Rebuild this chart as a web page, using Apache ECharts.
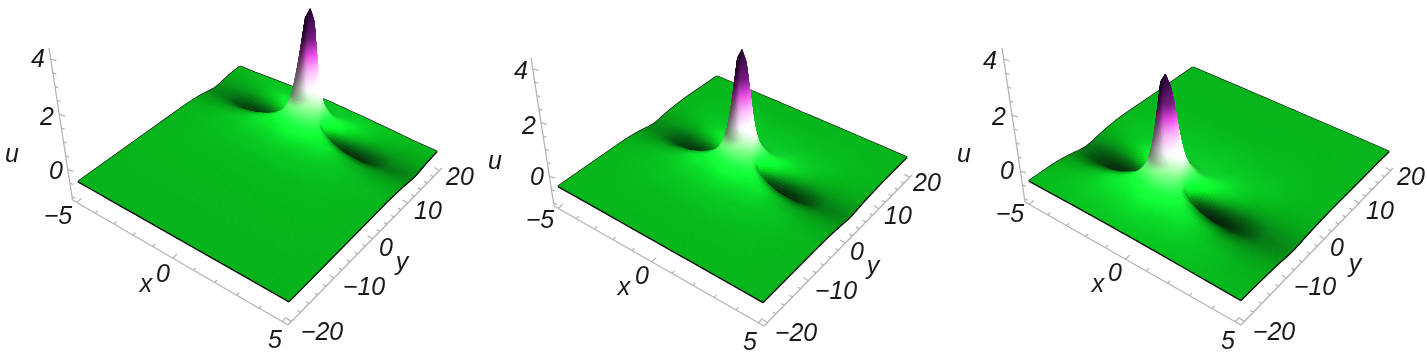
<!DOCTYPE html>
<html><head><meta charset="utf-8">
<style>html,body{margin:0;padding:0;background:#fff}#main{width:1426px;height:361px;filter:blur(0.7px)}</style>
<script src="https://cdn.jsdelivr.net/npm/echarts@6/dist/echarts.min.js"></script>
</head><body><div id="main"></div>
<script>
// ---- values ----
const uTicks=[0,2,4];
const uMinorTicks=[-1,-0.5,0.5,1,1.5,2.5,3,3.5];
const xTicks=[-5,0,5];
const xMinorTicks=[-4,-3,-2,-1,1,2,3,4];
const yTicks=[-20,-10,0,10,20];
const yMinorTicks=[-18,-16,-14,-12,-8,-6,-4,-2,2,4,6,8,12,14,16,18];
// peak position of the lump in each panel (x, y) and its stretch along x and y
const peakX=[-0.17,-0.2,-0.67];
const peakY=[13.1,2.4,-7.6];
const stretchX=[1,1,1.1];
const stretchY=[1.2,1.3,1.5];
// offsets from the peak at which heights were read
const xOffsets=[0,0.2,0.4,0.6,0.8,1,1.3,1.7,2.2,3,4,6,9];
const yOffsets=[0,0.4,0.8,1.2,1.6,2.4,3.2,4.8,7,11,16,34];
// u*100 on those offsets (one row per x offset); the lump is mirrored about its peak
const uHundredths=[
[400,345,212,130,88,47,30,15,8,3,2,0],
[365,305,192,122,84,45,28,15,8,3,2,0],
[230,198,138,95,70,40,26,14,8,3,2,0],
[110,108,95,76,60,36,24,13,8,3,2,0],
[30,38,50,54,48,32,22,13,8,3,2,0],
[-18,-6,18,32,35,28,20,12,8,3,2,0],
[-45,-32,-8,12,22,24,20,12,7,3,2,0],
[-50,-42,-24,-6,6,17,17,12,7,3,2,0],
[-45,-41,-30,-18,-7,6,10,9,6,3,2,0],
[-32,-30,-26,-20,-14,-4,2,6,5,3,2,0],
[-14,-13,-12,-11,-8,-5,-2,2,3,2,2,0],
[-6,-6,-5,-5,-4,-3,-2,-1,1,1,1,0],
[-3,-3,-3,-3,-2,-2,-2,-1,-1,0,0,0]];
// ---- layout (pixels) ----
const surfaceCorners=[
 {L:[78,182],B:[289,302],K:[240,67],R:[437,152]},
 {L:[558,187],B:[763,303],K:[717,77],R:[907,158]},
 {L:[1029,182],B:[1241,301],K:[1193,68],R:[1389,152]}];
const axisCorners=[
 {A:[72.5,200],C:[288,325],E:[442,168],T:[49,48]},
 {A:[554,206],C:[764,326],E:[912,175],T:[531,58]},
 {A:[1025,202],C:[1241,325],E:[1393,168],T:[1002,48]}];
const labelSpots=[
 [['4',38,60],['2',47,118],['0',56,172],['u',12,155],['\u22125',58,217],['0',163,275],['x',146,285],['5',275,341],['\u221220',322,333],['\u221210',364,288],['0',386,249],['y',402,263],['10',428,212],['20',460,178]],
 [['4',521,72],['2',529,127],['0',537,178],['u',495,162],['\u22125',540,221],['0',642,277],['x',624,288],['5',750,343],['\u221220',796,334],['\u221210',836,292],['0',857,253],['y',873,267],['10',898,217],['20',927,184]],
 [['4',990,62],['2',999,118],['0',1007,172],['u',964,155],['\u22125',1010,215],['0',1115,274],['x',1098,285],['5',1228,342],['\u221220',1274,333],['\u221210',1315,288],['0',1337,249],['y',1355,265],['10',1380,212],['20',1411,178]]];
const RISE=0.0226, U_MIN=-1.1, U_MAX=4.4;

function makeProjector(c,a){
  const [x0,y0]=c.L,[x1,y1]=c.B,[x2,y2]=c.K,[x3,y3]=c.R;
  const dx1=x1-x3,dx2=x2-x3,sx=x0-x1+x3-x2,dy1=y1-y3,dy2=y2-y3,sy=y0-y1+y3-y2;
  const den=dx1*dy2-dx2*dy1,g=(sx*dy2-dx2*sy)/den,h=(dx1*sy-sx*dy1)/den;
  const A=x1-x0+g*x1,B=x2-x0+h*x2,D=y1-y0+g*y1,E=y2-y0+h*y2;
  const vx=a.A[0]+183,vy=a.A[1]+1209;
  return (x,y,u)=>{
    const s=(x+5)/10,t=(y+20)/40,w=g*s+h*t+1;
    const px=(A*s+B*t+x0)/w,py=(D*s+E*t+y0)/w,k=1+u*RISE;
    return [vx+(px-vx)*k,vy+(py-vy)*k];
  };
}
function bracket(list,v){let i=0;while(i<list.length-2&&list[i+1]<v)i++;return [i,Math.min(1,(v-list[i])/(list[i+1]-list[i]))];}
function heightAt(X,Y){
  const [i,a]=bracket(xOffsets,Math.abs(X)),[j,b]=bracket(yOffsets,Math.abs(Y));
  const T=uHundredths;
  return ((1-a)*(1-b)*T[i][j]+a*(1-b)*T[i+1][j]+(1-a)*b*T[i][j+1]+a*b*T[i+1][j+1])/100;
}
function nodes(offsets,centre,scale,lo,hi){
  const set=new Set([lo,hi]);
  offsets.forEach(o=>{[centre+o*scale,centre-o*scale].forEach(v=>{if(v>lo&&v<hi)set.add(v);});});
  return [...set].sort((p,q)=>p-q);
}
function mix(a,b,t){return [a[0]+(b[0]-a[0])*t,a[1]+(b[1]-a[1])*t,a[2]+(b[2]-a[2])*t];}
const ramp=[[-0.5,[5,30,10]],[-0.35,[5,55,12]],[-0.2,[5,100,18]],[-0.1,[5,140,22]],[0,[5,176,25]],[0.15,[10,225,42]],[0.35,[25,255,60]],[0.7,[110,250,120]],[1.0,[190,250,190]],[1.4,[250,245,250]],[2.0,[240,170,235]],[2.5,[215,70,210]],[3.0,[110,25,120]],[4.0,[35,5,50]]];
function baseColour(u){
  if(u<=ramp[0][0])return ramp[0][1];
  for(let i=1;i<ramp.length;i++)if(u<=ramp[i][0])return mix(ramp[i-1][1],ramp[i][1],(u-ramp[i-1][0])/(ramp[i][0]-ramp[i-1][0]));
  return ramp[ramp.length-1][1];
}
function shadeColour(u,ux,uy){
  const p=ux*0.35,q=uy*4.4;
  const tx=-p/Math.sqrt(1+p*p),ty=q/Math.sqrt(1+q*q);
  const high=Math.min(1,Math.max(0,(u-0.3)/0.7));
  const t=0.85*tx+(0.9*(1-high)-0.3*high)*ty;
  const s=t<0?Math.max(0.42,1+0.65*t):1+0.25*t;
  const c=baseColour(u);
  return 'rgb('+[c[0]*s,c[1]*s,c[2]*s].map(v=>Math.min(255,Math.round(v))).join(',')+')';
}
function buildSurface(k){
  const proj=makeProjector(surfaceCorners[k],axisCorners[k]);
  const xs=nodes(xOffsets,peakX[k],stretchX[k],-5,5),ys=nodes(yOffsets,peakY[k],stretchY[k],-20,20);
  const nx=xs.length,ny=ys.length;
  const U=xs.map(x=>ys.map(y=>heightAt((x-peakX[k])/stretchX[k],(y-peakY[k])/stretchY[k])));
  const Ux=xs.map((_,i)=>ys.map((_,j)=>{const a=Math.max(0,i-1),b=Math.min(nx-1,i+1);return (U[b][j]-U[a][j])/(xs[b]-xs[a]);}));
  const Uy=xs.map((_,i)=>ys.map((_,j)=>{const a=Math.max(0,j-1),b=Math.min(ny-1,j+1);return (U[i][b]-U[i][a])/(ys[b]-ys[a]);}));
  const cells=[];
  const bl=(M,i,j,a,b)=>(1-a)*(1-b)*M[i][j]+a*(1-b)*M[i+1][j]+(1-a)*b*M[i][j+1]+a*b*M[i+1][j+1];
  for(let i=0;i<nx-1;i++)for(let j=ny-2;j>=0;j--){
    const p00=proj(xs[i],ys[j],U[i][j]),p10=proj(xs[i+1],ys[j],U[i+1][j]),p01=proj(xs[i],ys[j+1],U[i][j+1]),p11=proj(xs[i+1],ys[j+1],U[i+1][j+1]);
    const lenX=Math.max(Math.hypot(p10[0]-p00[0],p10[1]-p00[1]),Math.hypot(p11[0]-p01[0],p11[1]-p01[1]));
    const lenY=Math.max(Math.hypot(p01[0]-p00[0],p01[1]-p00[1]),Math.hypot(p11[0]-p10[0],p11[1]-p10[1]));
    const mx=Math.min(10,Math.max(1,Math.ceil(lenX/3.5))),my=Math.min(10,Math.max(1,Math.ceil(lenY/3.5)));
    for(let m=0;m<mx;m++)for(let n=my-1;n>=0;n--){
      const a0=m/mx,a1=(m+1)/mx,b0=n/my,b1=(n+1)/my,ac=(a0+a1)/2,bc=(b0+b1)/2;
      const at=(a,b)=>proj(xs[i]+a*(xs[i+1]-xs[i]),ys[j]+b*(ys[j+1]-ys[j]),bl(U,i,j,a,b));
      cells.push({pts:[at(a0,b0),at(a1,b0),at(a1,b1),at(a0,b1)],fill:shadeColour(bl(U,i,j,ac,bc),bl(Ux,i,j,ac,bc),bl(Uy,i,j,ac,bc))});
    }
  }
  const back=[ xs.map((x,i)=>proj(x,20,U[i][ny-1])), ys.map((y,j)=>proj(-5,y,U[0][j])) ];
  const front=[ xs.map((x,i)=>proj(x,-20,U[i][0])), ys.map((y,j)=>proj(5,y,U[nx-1][j])) ];
  return {cells,back,front};
}
function buildAxes(k){
  const a=axisCorners[k],segs=[];
  const lerp=(p,q,t)=>[p[0]+(q[0]-p[0])*t,p[1]+(q[1]-p[1])*t];
  const persp=(t,rho)=>t/(t+rho*(1-t));
  segs.push([a.A,a.T],[a.A,a.C],[a.C,a.E]);
  const uAt=v=>lerp(a.A,a.T,(v-U_MIN)/(U_MAX-U_MIN));
  const xAt=v=>lerp(a.A,a.C,persp((v+5.25)/10.5,1.15));
  const yAt=v=>lerp(a.C,a.E,persp((v+20.8)/41.6,0.82));
  const tick=(p,d,l)=>segs.push([p,[p[0]+d[0]*l,p[1]+d[1]*l]]);
  uTicks.forEach(v=>tick(uAt(v),[0.96,0.28],6));uMinorTicks.forEach(v=>tick(uAt(v),[0.96,0.28],3.5));
  xTicks.forEach(v=>tick(xAt(v),[0.72,-0.7],6));xMinorTicks.forEach(v=>tick(xAt(v),[0.72,-0.7],3.5));
  yTicks.forEach(v=>tick(yAt(v),[-0.85,-0.5],6));yMinorTicks.forEach(v=>tick(yAt(v),[-0.85,-0.5],3.5));
  return segs;
}
const series=[];
[0,1,2].forEach(k=>{
  const surf=buildSurface(k);
  const segs=buildAxes(k);
  const lineSeries=(lines,col,w)=>({type:'custom',coordinateSystem:'cartesian2d',silent:true,animation:false,progressive:0,clip:false,
    data:lines.map((_,i)=>[i]),
    renderItem:(p,api)=>{const i=api.value(0);return {type:'polyline',shape:{points:lines[i].map(q=>api.coord(q))},style:{fill:null,stroke:col,lineWidth:w,lineJoin:'round'}};}});
  series.push(lineSeries(segs,'#b4b4b4',1.3));
  series.push(lineSeries(surf.back,'#141414',2.2));
  series.push({type:'custom',coordinateSystem:'cartesian2d',silent:true,animation:false,progressive:0,clip:false,
    data:surf.cells.map((_,i)=>[i]),
    renderItem:(p,api)=>{const c=surf.cells[api.value(0)];return {type:'polygon',shape:{points:c.pts.map(q=>api.coord(q))},style:{fill:c.fill,stroke:c.fill,lineWidth:1}};}});
  series.push(lineSeries(surf.front,'#141414',1.4));
  const labels=labelSpots[k];
  series.push({type:'custom',coordinateSystem:'cartesian2d',silent:true,animation:false,progressive:0,clip:false,
    data:labels.map((_,i)=>[i]),
    renderItem:(p,api)=>{const l=labels[api.value(0)],q=api.coord([l[1],l[2]]);return {type:'text',style:{text:l[0],x:q[0],y:q[1],textAlign:'center',textVerticalAlign:'middle',font:'italic 25px "Liberation Sans"',fill:'#1a1a1a'}};}});
});
const chart=echarts.init(document.getElementById('main'),null,{renderer:'canvas'});
chart.setOption({animation:false,backgroundColor:'#fff',
  grid:{left:0,right:0,top:0,bottom:0},
  xAxis:{type:'value',min:0,max:1426,show:false},
  yAxis:{type:'value',min:0,max:361,inverse:true,show:false},
  series});
</script></body></html>
